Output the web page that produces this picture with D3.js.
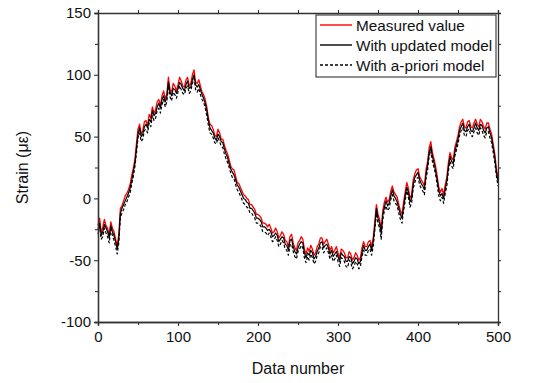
<!DOCTYPE html>
<html>
<head>
<meta charset="utf-8">
<script src="https://cdn.jsdelivr.net/npm/d3@7"></script>
<style>
  html, body { margin: 0; padding: 0; background: #fff; }
  svg { display: block; font-family: "Liberation Sans", Arial, Helvetica, sans-serif; }
</style>
</head>
<body>
<svg id="chart" width="539" height="383"></svg>
<script>
// ---------------- data ----------------
const step = 2; // data number spacing between stored samples (0..500)
const measured = [
  -22,-16,-28,-23,-17,-22,-24,-30,-19,-24,
  -27,-33,-38,-29,-8,-6,-2,2,4,7,
  11,18,24,31,44,56,60,52,55,62,
  63,59,68,65,74,69,72,78,80,75,
  83,87,81,84,98,88,86,93,91,87,
  92,98,95,91,90,96,98,91,93,100,
  104,94,93,96,91,86,84,80,74,65,
  60,59,56,51,50,56,53,48,48,43,
  39,36,31,26,24,23,18,13,12,9,
  6,3,2,0,-1,-5,-5,-7,-9,-13,
  -13,-14,-16,-20,-20,-21,-23,-21,-24,-28,
  -27,-24,-27,-32,-30,-27,-29,-34,-35,-39,
  -31,-29,-36,-40,-42,-36,-34,-31,-33,-41,
  -45,-40,-43,-38,-41,-46,-44,-39,-37,-32,
  -32,-37,-35,-33,-37,-42,-39,-44,-42,-39,
  -44,-48,-41,-42,-44,-48,-48,-43,-45,-50,
  -48,-44,-46,-50,-48,-40,-35,-39,-39,-35,
  -34,-39,-32,-19,-5,-13,-17,-26,-10,-3,
  1,-3,-1,6,10,5,3,1,-5,-10,
  -13,-3,5,13,8,0,3,15,20,23,
  24,18,15,13,10,23,30,41,46,37,
  32,26,18,9,5,8,3,11,17,29,
  37,33,31,41,46,51,58,62,64,58,
  57,62,63,58,57,61,64,60,58,64,
  62,58,56,61,61,56,52,44,36,24,
  17
];
const updatedModel = [
  -25,-20,-30,-27,-21,-24,-27,-32,-22,-27,
  -30,-35,-41,-33,-12,-8,-5,-2,1,4,
  8,14,21,28,40,52,57,50,52,58,
  60,57,64,62,71,67,69,74,77,73,
  80,83,78,82,94,86,83,89,88,85,
  89,94,92,89,87,92,95,89,90,96,
  100,92,90,92,88,84,81,77,71,63,
  57,55,53,49,47,52,50,46,45,40,
  36,33,28,24,21,19,15,11,9,6,
  3,0,-1,-3,-4,-8,-8,-10,-12,-16,
  -16,-17,-19,-23,-23,-24,-26,-25,-27,-31,
  -30,-28,-30,-35,-33,-31,-32,-37,-38,-42,
  -34,-33,-39,-43,-45,-40,-37,-35,-36,-44,
  -48,-44,-46,-42,-44,-49,-47,-43,-40,-36,
  -35,-40,-38,-37,-40,-45,-42,-47,-45,-43,
  -47,-51,-44,-46,-47,-51,-51,-47,-48,-53,
  -51,-48,-49,-53,-51,-44,-38,-42,-42,-39,
  -37,-42,-35,-23,-8,-16,-20,-29,-13,-7,
  -2,-6,-4,2,7,2,0,-3,-8,-13,
  -16,-7,2,9,5,-3,0,11,17,19,
  21,15,12,10,7,19,27,37,42,34,
  29,22,15,6,2,4,0,7,14,25,
  34,30,28,37,43,48,55,58,61,55,
  54,58,60,55,54,57,61,57,55,60,
  59,55,53,57,58,53,49,41,33,21,
  14
];
const aprioriModel = [
  -29,-23,-33,-31,-24,-28,-31,-36,-25,-30,
  -34,-39,-45,-36,-15,-12,-9,-5,-3,1,
  4,11,17,25,36,49,53,46,48,55,
  56,53,61,58,67,63,65,71,73,69,
  76,80,74,78,91,82,79,86,84,81,
  86,91,88,85,84,89,91,85,87,93,
  97,88,86,89,84,80,78,73,67,59,
  53,52,49,45,44,49,46,42,41,36,
  32,29,25,20,17,16,11,7,5,2,
  -1,-4,-5,-7,-8,-12,-12,-14,-16,-20,
  -20,-21,-23,-27,-27,-28,-30,-28,-31,-35,
  -34,-31,-34,-39,-37,-34,-36,-41,-42,-46,
  -38,-37,-43,-47,-49,-43,-41,-38,-40,-48,
  -52,-47,-50,-45,-48,-53,-51,-46,-44,-39,
  -39,-44,-42,-40,-44,-49,-46,-51,-49,-46,
  -51,-55,-48,-49,-51,-55,-56,-50,-52,-57,
  -55,-51,-53,-57,-55,-47,-42,-46,-46,-42,
  -41,-46,-39,-26,-12,-20,-24,-33,-17,-10,
  -6,-10,-8,-1,3,-2,-4,-6,-12,-17,
  -20,-10,-2,6,1,-7,-4,8,13,16,
  17,11,8,6,3,16,23,34,39,30,
  25,19,11,2,-2,1,-4,4,10,22,
  30,26,24,34,39,44,51,55,57,51,
  50,55,56,51,50,54,57,53,51,57,
  55,51,49,54,54,49,45,37,29,18,
  10
];
const xTicks = [0, 100, 200, 300, 400, 500];
const yTicks = [-100, -50, 0, 50, 100, 150];
const xMinor = [50, 150, 250, 350, 450];
const yMinor = [-75, -25, 25, 75, 125];
const legendLabels = ["Measured value", "With updated model", "With a-priori model"];

// ---------------- layout ----------------
const svg = d3.select("#chart");
const m = { left: 98, right: 498, top: 13, bottom: 322 };
const x = d3.scaleLinear().domain([0, 500]).range([m.left, m.right]);
const y = d3.scaleLinear().domain([-100, 150]).range([m.bottom, m.top]);
const axisColor = "#333";
const FONT = "'Liberation Sans', Arial, Helvetica, sans-serif";

// series lines
const line = d3.line().x((d, i) => x(i * step)).y(d => y(d));
const series = [
  { data: measured, color: "#ff0000", dash: null, w: 1.3 },
  { data: updatedModel, color: "#000", dash: null, w: 1.2 },
  { data: aprioriModel, color: "#000", dash: "3,2", w: 1.2 }
];
const plot = svg.append("g");
series.forEach(s => {
  plot.append("path")
    .datum(s.data)
    .attr("fill", "none")
    .attr("stroke", s.color)
    .attr("stroke-width", s.w)
    .attr("stroke-dasharray", s.dash)
    .attr("stroke-linejoin", "round")
    .attr("d", line);
});

// axes
function styleAxis(g) {
  g.attr("font-family", FONT);
  g.selectAll(".domain").attr("stroke", axisColor).attr("stroke-width", 1.3);
  g.selectAll(".tick line").attr("stroke", axisColor).attr("stroke-width", 1.1);
  g.selectAll("text").attr("fill", "#111").style("font-size", "15px").style("font-family", FONT);
}
const fmt = d => String(d);
const gBottom = svg.append("g").attr("transform", `translate(0,${m.bottom})`)
  .call(d3.axisBottom(x).tickValues(xTicks).tickSize(4).tickPadding(5).tickFormat(fmt));
styleAxis(gBottom);
const gBottomMinor = svg.append("g").attr("transform", `translate(0,${m.bottom})`)
  .call(d3.axisBottom(x).tickValues(xMinor).tickSize(3).tickFormat(""));
styleAxis(gBottomMinor);

const gLeft = svg.append("g").attr("transform", `translate(${m.left},0)`)
  .call(d3.axisLeft(y).tickValues(yTicks).tickSize(4).tickPadding(3).tickFormat(fmt));
styleAxis(gLeft);
const gLeftMinor = svg.append("g").attr("transform", `translate(${m.left},0)`)
  .call(d3.axisLeft(y).tickValues(yMinor).tickSize(3).tickFormat(""));
styleAxis(gLeftMinor);

const gTop = svg.append("g").attr("transform", `translate(0,${m.top})`)
  .call(d3.axisTop(x).tickValues(xTicks.concat(xMinor)).tickSize(3).tickFormat(""));
styleAxis(gTop);
const gRight = svg.append("g").attr("transform", `translate(${m.right},0)`)
  .call(d3.axisRight(y).tickValues(yTicks.concat(yMinor)).tickSize(3).tickFormat(""));
styleAxis(gRight);

// axis titles
svg.append("text")
  .attr("x", (m.left + m.right) / 2).attr("y", 374)
  .attr("text-anchor", "middle").style("font-size", "16px").style("font-family", FONT).attr("fill", "#111")
  .text("Data number");
svg.append("text")
  .attr("transform", `translate(28,${(m.top + m.bottom) / 2}) rotate(-90)`)
  .attr("text-anchor", "middle").style("font-size", "16px").style("font-family", FONT).attr("fill", "#111")
  .text("Strain (με)");

// legend
const lg = svg.append("g").attr("transform", "translate(316,15)");
lg.append("rect").attr("width", 180).attr("height", 62)
  .attr("fill", "#fff").attr("stroke", axisColor).attr("stroke-width", 1.1);
series.forEach((s, i) => {
  const yy = 10 + i * 20;
  lg.append("line").attr("x1", 4).attr("x2", 36).attr("y1", yy).attr("y2", yy)
    .attr("stroke", s.color).attr("stroke-width", 1.4).attr("stroke-dasharray", s.dash);
  lg.append("text").attr("x", 40).attr("y", yy + 5.5)
    .style("font-size", "15.3px").style("font-family", FONT).attr("fill", "#111").text(legendLabels[i]);
});
</script>
</body>
</html>
